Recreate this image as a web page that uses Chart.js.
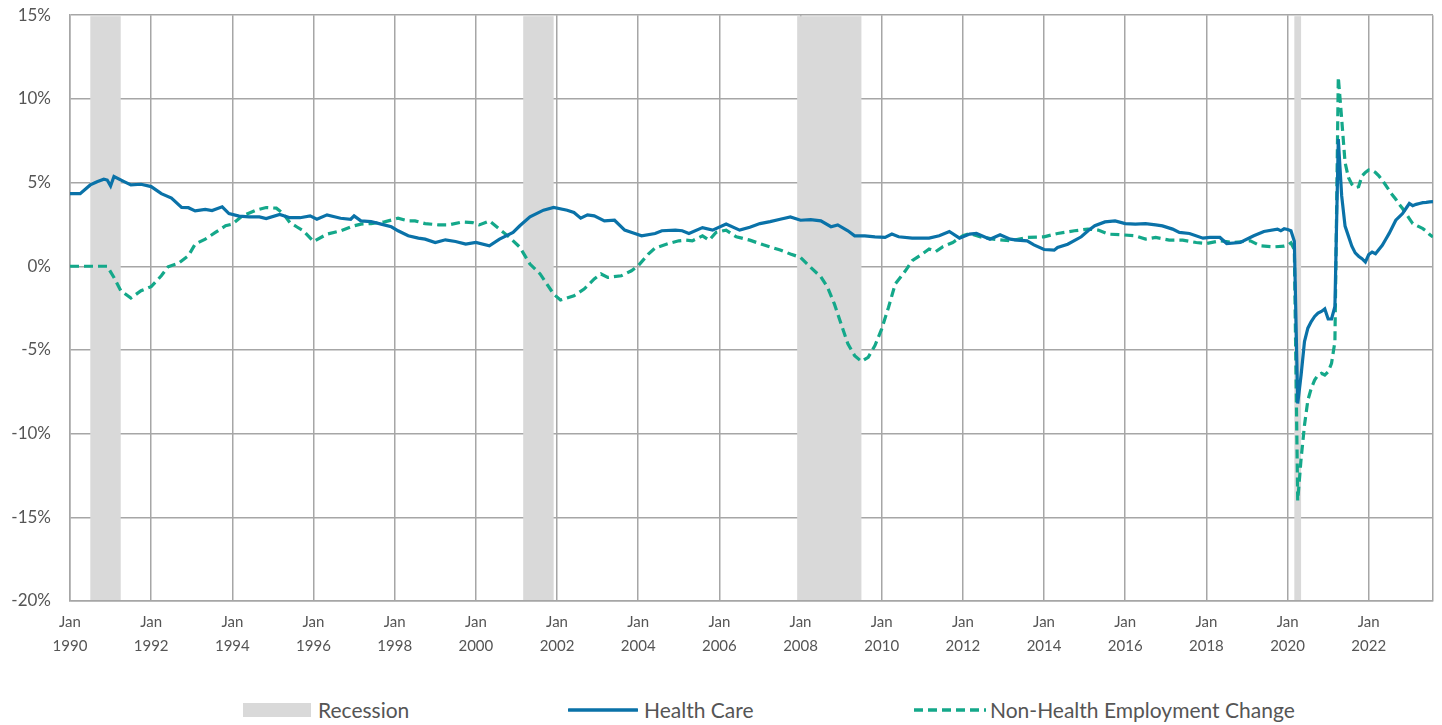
<!DOCTYPE html>
<html>
<head>
<meta charset="utf-8">
<script src="https://cdn.jsdelivr.net/npm/chart.js@4.4.1/dist/chart.umd.min.js"></script>
<style>
  html, body { margin: 0; padding: 0; background: #fff; }
  #wrap { position: relative; width: 1442px; height: 725px; overflow: hidden; }
  #chartBox { position: absolute; left: 0; top: -14px; width: 1442px; height: 684px; }
  .lg { position: absolute; font-family: Lato, "Open Sans", sans-serif; font-size: 21px; color: #555; line-height: 24px; white-space: nowrap; }
</style>
</head>
<body>
<div id="wrap">
  <div id="chartBox"><canvas id="c"></canvas></div>
  <div class="lg" style="left:243px; top:703px; width:68px; height:14px; background:#d9d9d9;"></div>
  <div class="lg" style="left:318px; top:698px;">Recession</div>
  <svg class="lg" style="left:568px; top:706px;" width="70" height="8"><line x1="1" y1="4" x2="69" y2="4" stroke="#0a72a8" stroke-width="3.5" stroke-linecap="round"/></svg>
  <div class="lg" style="left:644px; top:698px;">Health Care</div>
  <svg class="lg" style="left:913px; top:706px;" width="74" height="8"><line x1="1" y1="4" x2="73" y2="4" stroke="#14a88a" stroke-width="3.5" stroke-dasharray="9,5"/></svg>
  <div class="lg" style="left:990px; top:698px;">Non-Health Employment Change</div>
</div>
<script>
// ---- data (x values are months since Jan 1990) ----
const xTickYears = ['1990','1992','1994','1996','1998','2000','2002','2004','2006','2008','2010','2012','2014','2016','2018','2020','2022'];
const lastMonth = 403; // Aug 2023
const yTickValues = [15, 10, 5, 0, -5, -10, -15, -20];

const recessionStart = [6, 134, 215, 362];
const recessionEnd   = [15, 143, 234, 364];

const healthMonths = [0,3,6,8,10,11,12,13,16,18,21,24,27,30,33,35,37,40,42,45,47,50,53,56,58,62,65,68,71,73,76,80,83,84,86,89,92,95,97,100,103,105,108,111,114,117,120,124,127,131,133,136,140,143,147,149,151,153,155,158,161,164,167,169,173,175,179,181,183,187,190,194,198,201,204,207,210,213,216,219,222,225,227,230,232,235,238,241,243,245,249,252,254,257,260,263,266,268,272,275,278,280,283,285,288,291,292,295,299,301,303,306,309,312,315,318,321,323,326,328,331,335,337,340,342,346,350,353,357,358,359,360,361,362,363,364,365,366,367,368,369,370,371,372,373,374,375,376,377,378,379,380,381,382,383,384,385,386,387,388,389,390,391,392,393,394,395,396,397,398,399,400,401,402,403];
const healthValues = [4.34,4.34,4.86,5.05,5.2,5.15,4.8,5.36,5.06,4.86,4.9,4.76,4.34,4.07,3.51,3.5,3.31,3.4,3.33,3.55,3.15,3.0,2.95,2.95,2.85,3.1,2.9,2.9,3.01,2.81,3.07,2.87,2.81,3.01,2.71,2.67,2.52,2.36,2.12,1.82,1.68,1.62,1.42,1.58,1.48,1.32,1.42,1.22,1.62,2.02,2.42,2.95,3.35,3.51,3.35,3.21,2.87,3.07,3.01,2.71,2.75,2.16,1.96,1.82,1.96,2.12,2.16,2.12,1.96,2.31,2.16,2.52,2.16,2.33,2.55,2.67,2.81,2.95,2.75,2.79,2.71,2.36,2.47,2.12,1.82,1.82,1.76,1.72,1.92,1.76,1.68,1.68,1.68,1.82,2.08,1.68,1.92,1.96,1.62,1.88,1.62,1.56,1.52,1.28,1.0,0.96,1.12,1.32,1.76,2.12,2.42,2.65,2.71,2.55,2.52,2.55,2.47,2.41,2.22,2.02,1.96,1.68,1.72,1.72,1.36,1.42,1.82,2.08,2.22,2.12,2.24,2.2,2.12,1.5,-8.2,-6.5,-4.5,-3.7,-3.3,-3.0,-2.8,-2.7,-2.55,-3.15,-3.15,-2.4,7.6,4.2,2.4,1.8,1.2,0.8,0.6,0.45,0.25,0.7,0.85,0.75,1.0,1.25,1.6,1.95,2.35,2.75,2.95,3.15,3.45,3.75,3.62,3.7,3.75,3.8,3.82,3.85,3.86];

const nonHealthMonths = [0,3,6,9,11,13,15,18,21,24,27,29,32,35,37,40,43,46,48,51,55,58,61,63,65,67,69,72,76,80,84,86,89,93,97,100,102,105,109,112,116,119,121,124,127,130,133,136,139,143,145,149,152,155,157,159,163,166,168,171,173,177,180,182,184,187,189,191,194,197,201,205,210,213,216,219,222,224,226,228,230,232,234,236,238,240,242,244,247,249,252,254,256,258,261,264,266,269,273,278,283,288,292,297,301,304,307,311,315,318,321,325,329,333,336,340,344,349,352,356,359,360,361,362,363,364,365,366,367,368,369,370,371,372,373,374,375,376,377,378,379,380,381,382,383,384,385,386,387,388,389,390,391,392,393,394,395,396,397,398,399,400,401,402,403];
const nonHealthValues = [0,0,0,0,0,-0.67,-1.46,-1.9,-1.46,-1.22,-0.57,-0.03,0.17,0.63,1.32,1.62,2.02,2.42,2.52,3.01,3.35,3.51,3.47,3.15,2.61,2.36,2.12,1.48,1.92,2.12,2.42,2.52,2.55,2.65,2.87,2.71,2.71,2.55,2.47,2.47,2.65,2.61,2.47,2.71,2.22,1.72,1.14,0.13,-0.46,-1.66,-2.02,-1.76,-1.36,-0.76,-0.46,-0.67,-0.57,-0.27,0.03,0.73,1.09,1.36,1.52,1.56,1.52,1.82,1.56,2.02,2.16,1.76,1.56,1.28,0.97,0.73,0.53,-0.07,-0.63,-1.26,-2.25,-3.45,-4.64,-5.34,-5.69,-5.44,-4.74,-3.74,-2.46,-1.06,-0.27,0.33,0.73,1.03,0.88,1.16,1.42,1.82,1.96,1.76,1.62,1.52,1.72,1.76,1.96,2.12,2.22,2.16,1.92,1.88,1.82,1.62,1.72,1.56,1.56,1.42,1.36,1.52,1.42,1.52,1.22,1.16,1.2,1.25,1.4,1.0,-14.0,-11.5,-9.5,-8.0,-7.3,-6.8,-6.5,-6.4,-6.5,-6.3,-5.8,-4.5,11.3,8.8,6.2,5.3,4.9,4.7,4.75,5.4,5.6,5.75,5.73,5.6,5.4,5.15,4.85,4.55,4.25,4.0,3.7,3.45,3.15,2.85,2.55,2.45,2.35,2.25,2.1,1.9,1.75];

// ---- styles ----
const healthColor = '#0a72a8';
const nonHealthColor = '#14a88a';
const recessionColor = '#d9d9d9';
const gridColor = '#a6a6a6';
const labelColor = '#555555';

const xTickMonths = xTickYears.map(y => (parseInt(y, 10) - 1990) * 12);

const recessionPlugin = {
  id: 'recessions',
  beforeDatasetsDraw(chart) {
    const { ctx, chartArea, scales: { x } } = chart;
    ctx.save();
    ctx.fillStyle = recessionColor;
    recessionStart.forEach((s, i) => {
      const x0 = x.getPixelForValue(s);
      const x1 = x.getPixelForValue(recessionEnd[i]);
      ctx.fillRect(x0, chartArea.top + 1, x1 - x0, chartArea.bottom - chartArea.top - 2);
    });
    ctx.restore();
  }
};

new Chart(document.getElementById('c'), {
  type: 'line',
  data: {
    datasets: [
      {
        label: 'Health Care',
        data: healthMonths.map((m, i) => ({ x: m, y: healthValues[i] })),
        borderColor: healthColor,
        borderWidth: 3.2,
        pointRadius: 0,
        tension: 0,
        fill: false
      },
      {
        label: 'Non-Health Employment Change',
        data: nonHealthMonths.map((m, i) => ({ x: m, y: nonHealthValues[i] })),
        borderColor: nonHealthColor,
        borderWidth: 3.2,
        borderDash: [9, 5],
        pointRadius: 0,
        tension: 0,
        fill: false
      }
    ]
  },
  options: {
    responsive: true,
    maintainAspectRatio: false,
    animation: false,
    layout: { padding: { top: 0, right: 9, left: 0, bottom: 0 } },
    plugins: { legend: { display: false }, tooltip: { enabled: false } },
    scales: {
      x: {
        type: 'linear',
        min: 0,
        max: lastMonth,
        afterBuildTicks: s => { s.ticks = xTickMonths.concat([lastMonth]).map(v => ({ value: v })); },
        afterFit: s => { s.height = 69; },
        grid: { color: gridColor, lineWidth: 1.5, drawTicks: false },
        border: { color: gridColor, width: 1.5 },
        ticks: {
          autoSkip: false,
          maxRotation: 0,
          padding: 9,
          color: labelColor,
          font: { family: 'Lato', size: 15, lineHeight: 1.6 },
          callback: v => {
            const i = xTickMonths.indexOf(v);
            return i >= 0 ? ['Jan', xTickYears[i]] : '';
          }
        }
      },
      y: {
        min: -20,
        max: 15,
        afterBuildTicks: s => { s.ticks = yTickValues.map(v => ({ value: v })); },
        afterFit: s => { s.width = 70; },
        grid: { color: gridColor, lineWidth: 1.5, drawTicks: false },
        border: { color: gridColor, width: 1.5 },
        ticks: {
          padding: 19,
          color: labelColor,
          font: { family: 'Lato', size: 17 },
          callback: v => v + '%'
        }
      }
    }
  },
  plugins: [recessionPlugin]
});
</script>
</body>
</html>
